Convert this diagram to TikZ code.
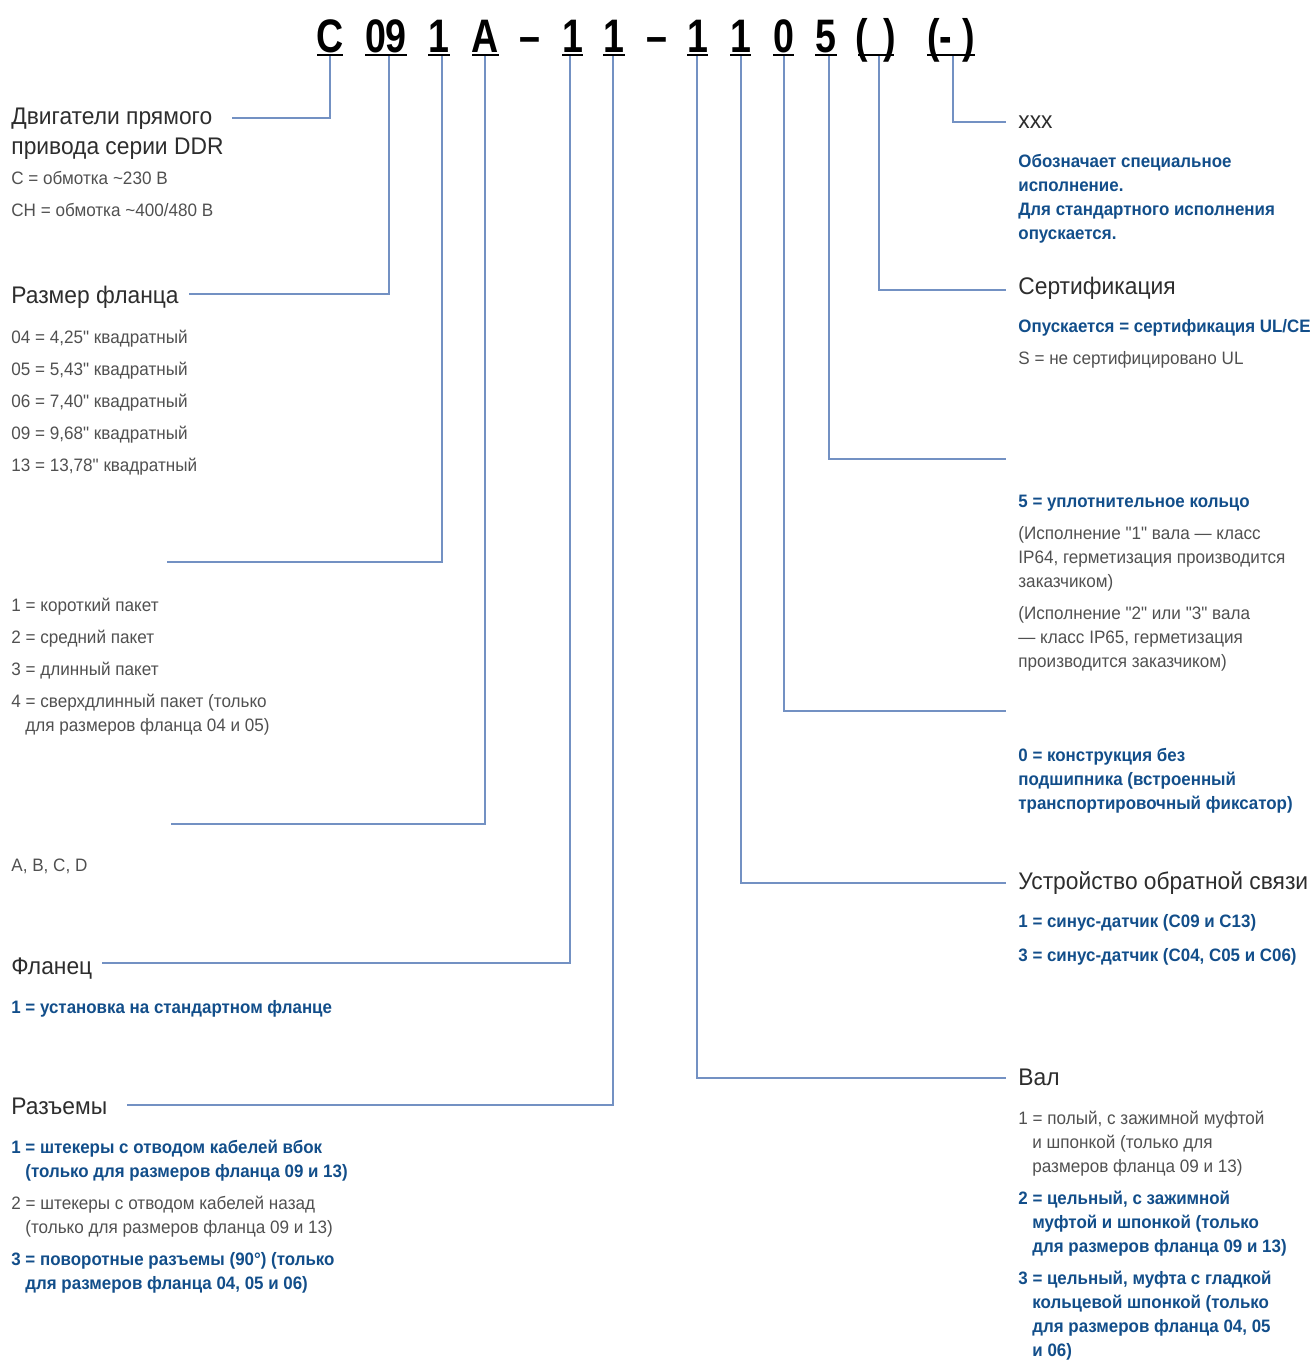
\documentclass[tikz,border=0pt]{standalone}
\usepackage{fontspec}
\setmainfont{Liberation Sans}[FakeStretch=0.95,Ligatures=TeXOff]
\newfontfamily\hdrfont{Liberation Sans}[FakeStretch=0.8,Ligatures=TeXOff]
\newfontfamily\bfnt{Liberation Sans}[FakeStretch=0.94,Ligatures=TeXOff]
\definecolor{titlecol}{RGB}{45,45,45}
\definecolor{graycol}{RGB}{80,80,80}
\definecolor{bluecol}{RGB}{18,78,138}
\definecolor{linecol}{RGB}{115,145,195}
\tikzset{
  ttl/.style={font=\fontsize{12}{15}\selectfont, text=titlecol, anchor=base west, inner sep=0pt},
  note/.style={font=\fontsize{9}{12}\selectfont, text=graycol, anchor=base west, inner sep=0pt},
  bnote/.style={font=\bfnt\bfseries\fontsize{9}{12}\selectfont, text=bluecol, anchor=base west, inner sep=0pt},
  hdr/.style={font=\hdrfont\bfseries\fontsize{23.5}{28}\selectfont, text=black, anchor=base, inner sep=0pt},
  uline/.style={line width=1.3pt, black},
  conn/.style={draw=linecol, line width=0.7pt}
}
\newcommand{\ind}{\hspace*{7pt}}
\newcommand{\qq}{\char"22\relax}
\begin{document}
\begin{tikzpicture}[x=0.5pt,y=-0.5pt]
\useasboundingbox (0,0) rectangle (1314,1360);
% ---------- connectors
\coordinate (uC) at (330,56);   \coordinate (eC) at (232,118);
\coordinate (u09) at (389,56);  \coordinate (e09) at (189,294);
\coordinate (u1a) at (442,56);  \coordinate (e1a) at (167,562);
\coordinate (uA) at (485,56);   \coordinate (eA) at (171,824);
\coordinate (u1b) at (570,56);  \coordinate (e1b) at (102,963);
\coordinate (u1c) at (613,56);  \coordinate (e1c) at (127,1105);
\coordinate (u1d) at (697,56);  \coordinate (e1d) at (1006,1078);
\coordinate (u1e) at (741,56);  \coordinate (e1e) at (1006,883);
\coordinate (u0) at (784,56);   \coordinate (e0) at (1006,711);
\coordinate (u5) at (829,56);   \coordinate (e5) at (1006,459);
\coordinate (uP) at (879,56);   \coordinate (eP) at (1006,290);
\coordinate (uX) at (953,56);   \coordinate (eX) at (1006,122);
\foreach \a/\b in {uC/eC,u09/e09,u1a/e1a,uA/eA,u1b/e1b,u1c/e1c,u1d/e1d,u1e/e1e,u0/e0,u5/e5,uP/eP,uX/eX}
  \draw[conn] (\a) |- (\b);
% ---------- header
\node[hdr] (hC) at (330,52) {C};
\node[hdr] (h09) at (386,52) {09};
\node[hdr] (h1a) at (439,52) {1};
\node[hdr] (hA) at (485.5,52) {A};
\node[hdr] (hd1) at (529.5,52) {–};
\node[hdr] (h1b) at (572.5,52) {1};
\node[hdr] (h1c) at (614,52) {1};
\node[hdr] (hd2) at (656.5,52) {–};
\node[hdr] (h1d) at (697.5,52) {1};
\node[hdr] (h1e) at (740.5,52) {1};
\node[hdr] (h0) at (783.5,52) {0};
\node[hdr] (h5) at (826,52) {5};
\node[hdr] (hP) at (876,52) {(\hspace{8pt})};
\node[hdr] (hX) at (951,52) {(-\hspace{5pt})};
\foreach \l/\r in {317/343,365/407,428/450,472/499,562/583,603/625,687/708,730/751,773/794,815/837,858/894,927/975}
  \draw[uline] (\l,55) -- (\r,55);
% ---------- left column
\node[ttl] (tMot) at (11,124.5) {\vtop{\hbox{Двигатели прямого}\hbox{привода серии DDR}}};
\node[note] (nC) at (11,184) {C = обмотка \textasciitilde230 В};
\node[note] (nCH) at (11,216) {CH = обмотка \textasciitilde400/480 В};
\node[ttl] (tFl) at (11,303.5) {Размер фланца};
\node[note] (f04) at (11,343) {04 = 4,25\qq{} квадратный};
\node[note] (f05) at (11,375) {05 = 5,43\qq{} квадратный};
\node[note] (f06) at (11,407) {06 = 7,40\qq{} квадратный};
\node[note] (f09) at (11,439) {09 = 9,68\qq{} квадратный};
\node[note] (f13) at (11,471) {13 = 13,78\qq{} квадратный};
\node[note] (p1) at (11,611.5) {1 = короткий пакет};
\node[note] (p2) at (11,643.5) {2 = средний пакет};
\node[note] (p3) at (11,675.5) {3 = длинный пакет};
\node[note] (p4) at (11,707.5) {\vtop{\hbox{4 = сверхдлинный пакет (только}\hbox{\ind для размеров фланца 04 и 05)}}};
\node[note] (abcd) at (11,871.5) {A, B, C, D};
\node[ttl] (tFlan) at (11,974.5) {Фланец};
\node[bnote] (fl1) at (11,1013.5) {1 = установка на стандартном фланце};
\node[ttl] (tRaz) at (11,1114.5) {Разъемы};
\node[bnote] (r1) at (11,1153.5) {\vtop{\hbox{1 = штекеры с отводом кабелей вбок}\hbox{\ind(только для размеров фланца 09 и 13)}}};
\node[note] (r2) at (11,1209.5) {\vtop{\hbox{2 = штекеры с отводом кабелей назад}\hbox{\ind(только для размеров фланца 09 и 13)}}};
\node[bnote] (r3) at (11,1265.5) {\vtop{\hbox{3 = поворотные разъемы (90°) (только}\hbox{\ind для размеров фланца 04, 05 и 06)}}};
% ---------- right column
\node[ttl] (tX) at (1018,128) {xxx};
\node[bnote] (xs) at (1018,167.5) {\vtop{\hbox{Обозначает специальное}\hbox{исполнение.}\hbox{Для стандартного исполнения}\hbox{опускается.}}};
\node[ttl] (tCert) at (1018,294.5) {Сертификация};
\node[bnote] (c1) at (1018,332.5) {Опускается = сертификация UL/CE};
\node[note] (c2) at (1018,364.5) {S = не сертифицировано UL};
\node[bnote] (s5) at (1018,507.5) {5 = уплотнительное кольцо};
\node[note] (s5a) at (1018,539.5) {\vtop{\hbox{(Исполнение \qq1\qq{} вала — класс}\hbox{IP64, герметизация производится}\hbox{заказчиком)}}};
\node[note] (s5b) at (1018,619.5) {\vtop{\hbox{(Исполнение \qq2\qq{} или \qq3\qq{} вала}\hbox{— класс IP65, герметизация}\hbox{производится заказчиком)}}};
\node[bnote] (b0) at (1018,761.5) {\vtop{\hbox{0 = конструкция без}\hbox{подшипника (встроенный}\hbox{транспортировочный фиксатор)}}};
\node[ttl] (tFb) at (1018,889.5) {Устройство обратной связи};
\node[bnote] (fb1) at (1018,927.5) {1 = синус-датчик (C09 и C13)};
\node[bnote] (fb3) at (1018,961.5) {3 = синус-датчик (C04, C05 и C06)};
\node[ttl] (tVal) at (1018,1085.5) {Вал};
\node[note] (v1) at (1018,1124.5) {\vtop{\hbox{1 = полый, с зажимной муфтой}\hbox{\ind и шпонкой (только для}\hbox{\ind размеров фланца 09 и 13)}}};
\node[bnote] (v2) at (1018,1204.5) {\vtop{\hbox{2 = цельный, с зажимной}\hbox{\ind муфтой и шпонкой (только}\hbox{\ind для размеров фланца 09 и 13)}}};
\node[bnote] (v3) at (1018,1284.5) {\vtop{\hbox{3 = цельный, муфта с гладкой}\hbox{\ind кольцевой шпонкой (только}\hbox{\ind для размеров фланца 04, 05}\hbox{\ind и 06)}}};
\end{tikzpicture}
\end{document}
